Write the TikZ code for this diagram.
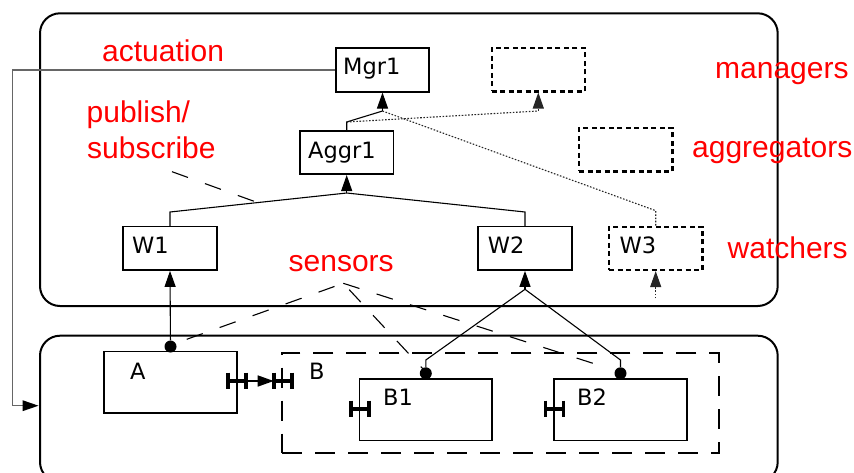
\documentclass[tikz,border=0pt]{standalone}
\usepackage{fontspec}
\newfontfamily\boxfont{DejaVu Sans}
\newfontfamily\redfont{Liberation Sans}
\usetikzlibrary{arrows.meta}
\tikzset{
  panel/.style={draw, line width=2pt, rounded corners=20pt, inner sep=0pt},
  box/.style={draw, line width=1.7pt, inner sep=0pt, minimum width=93.4pt, minimum height=43.4pt},
  bigbox/.style={draw, line width=1.7pt, inner sep=0pt, minimum width=132.4pt, minimum height=61.5pt},
  dbox/.style={box, dash pattern=on 5pt off 3.5pt, line width=2.2pt},
  blbl/.style={font=\boxfont\fontsize{22.5}{26}\selectfont, inner sep=0pt, anchor=base west},
  rlbl/.style={font=\redfont\fontsize{30}{35}\selectfont, text=red, inner sep=0pt, anchor=base west},
  conn/.style={line width=1.1pt},
  tip/.style={-{Triangle[length=16pt,width=11pt]}},
  dotc/.style={line width=1.1pt, dash pattern=on 1.6pt off 1.6pt, black!85},
  longdash/.style={line width=1.1pt, dash pattern=on 17pt off 18pt},
  act/.style={line width=1.5pt, black!60},
  porth/.pic={\draw[line width=3.6pt] (-9,-8.3)--(-9,8.3) (9,-8.3)--(9,8.3) (-9,0)--(9,0);},
  sdot/.style={circle, fill=black, inner sep=0pt, minimum size=12pt}
}
\begin{document}
\begin{tikzpicture}[x=1pt,y=-1pt]
\useasboundingbox (0,0) rectangle (854,472);
\clip (0,0) rectangle (854,472);
% panels
\node[panel, minimum width=737.7pt, minimum height=292.7pt] (top) at (408.85,159.65) {};
\node[panel, minimum width=737.7pt, minimum height=146.3pt] (low) at (408.85,408.85) {};
% boxes
\node[box] (mgr) at (382.5,70) {};
\node[dbox] (mdash) at (538.3,69.7) {};
\node[box] (aggr) at (346.7,152.5) {};
\node[dbox] (adash) at (625.7,149.7) {};
\node[box] (w1) at (170,248.3) {};
\node[box] (w2) at (525,248.3) {};
\node[dbox] (w3) at (655.7,248.3) {};
\node[bigbox] (a) at (170.5,382.2) {};
\node[draw, line width=2.2pt, dash pattern=on 20pt off 13pt, inner sep=0pt, minimum width=437.3pt, minimum height=100.6pt] (bb) at (500.7,403) {};
\node[bigbox] (b1) at (425.8,409.8) {};
\node[bigbox] (b2) at (620.5,409.8) {};
% box labels
\node[blbl] (mgrt) at (343,74.3) {Mgr1};
\node[blbl] (aggrt) at (308,158) {Aggr1};
\node[blbl] (w1t) at (132,253.3) {W1};
\node[blbl] (w2t) at (487.6,253.3) {W2};
\node[blbl] (w3t) at (619.3,253.3) {W3};
\node[blbl] (at) at (130,379) {A};
\node[blbl] (bt) at (309,379) {B};
\node[blbl] (b1t) at (383,405.7) {B1};
\node[blbl] (b2t) at (577,405.7) {B2};
% red labels
\node[rlbl] (lact) at (102,61) {actuation};
\node[rlbl] (lpub) at (86.5,122.5) {publish/};
\node[rlbl] (lsub) at (87,158) {subscribe};
\node[rlbl] (lman) at (715,78) {managers};
\node[rlbl] (lagg) at (692,157) {aggregators};
\node[rlbl] (lwat) at (727.5,258) {watchers};
\node[rlbl] (lsen) at (288.5,271.7) {sensors};
% junction coordinates
\coordinate (ja) at (346.7,122);
\coordinate (jm) at (382.5,111);
\coordinate (jd) at (538.3,111);
\coordinate (j3) at (655.7,210.7);
\coordinate (jw) at (346.7,193);
\coordinate (jw1) at (170,212);
\coordinate (jw2) at (525,212);
\coordinate (jb) at (525,289.3);
\coordinate (jb1) at (425.8,360);
\coordinate (jb2) at (620.5,360);
\coordinate (w3s) at (655.7,298.3);
\coordinate (ps1) at (172,171.7);
\coordinate (ps2) at (258,202.7);
\coordinate (sa) at (343.3,283.3);
\coordinate (s1) at (186.7,339.3);
\coordinate (s2) at (423,369);
\coordinate (s3) at (606.7,367.7);
\coordinate (ac1) at (12.7,70);
\coordinate (ac2) at (38.5,405.7);
% manager tree
\draw[conn] (aggr.north) -- (ja) -- (jm);
\draw[conn, tip] (jm) -- (mgr.south);
\draw[dotc] (ja) -- (jd);
\draw[dotc, tip] (jd) -- (mdash.south);
\draw[dotc] (w3.north) -- (j3) -- (jm);
% aggregator tree
\draw[conn] (w1.north) -- (jw1) -- (jw);
\draw[conn] (w2.north) -- (jw2) -- (jw);
\draw[conn, tip] (jw) -- (aggr.south);
% publish/subscribe
\draw[longdash] (ps1) -- (ps2);
% sensors
\node[sdot] (da) at (170.5,346.5) {};
\node[sdot] (db1) at (425.8,373.3) {};
\node[sdot] (db2) at (620.5,373.3) {};
\draw[conn, tip] (da) -- (w1.south);
\draw[conn] (db1) -- (jb1) -- (jb);
\draw[conn] (db2) -- (jb2) -- (jb);
\draw[conn, tip] (jb) -- (w2.south);
\draw[dotc, tip] (w3s) -- (w3.south);
\draw[longdash] (s1) -- (sa) -- (s2);
\draw[longdash] (sa) -- (s3);
% actuation
\draw[act] (mgr.west) -- (ac1) |- ([xshift=-14pt]ac2);
\fill (ac2) -- ++(-16,-5.5) -- ++(0,11) -- cycle;
% ports
\coordinate (pa) at (236.7,381);
\coordinate (pb) at (282.7,381);
\pic at (pa) {porth};
\pic at (pb) {porth};
\pic at (360,409) {porth};
\pic at (554.3,409) {porth};
\draw[conn, line width=1.5pt, tip] ([xshift=9pt]pa) -- ([xshift=-9pt]pb);
\end{tikzpicture}
\end{document}
